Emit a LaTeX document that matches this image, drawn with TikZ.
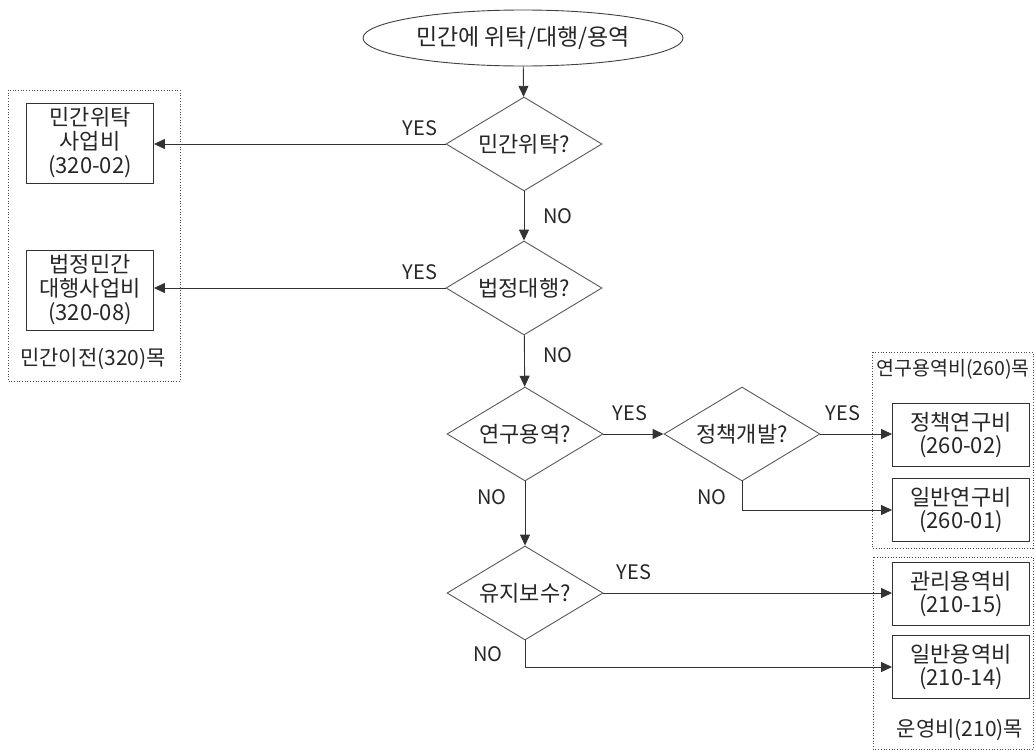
\documentclass[tikz,border=0pt]{standalone}
\usepackage{fontspec}
\setmainfont{Noto Sans CJK KR}
\usetikzlibrary{shapes.geometric,arrows.meta}
\begin{document}
\begin{tikzpicture}[x=1pt,y=-1pt,
  txt/.style={font=\fontsize{22}{24}\selectfont, text=black!85},
  startnode/.style={ellipse, draw=black!75, line width=0.9pt, minimum width=320pt, minimum height=56pt, inner sep=0pt, txt, font=\fontsize{23}{24}\selectfont},
  decision/.style={diamond, draw=black!65, line width=0.9pt, aspect=1.65, inner sep=0pt, minimum width=156pt, minimum height=94pt, txt},
  leftbox/.style={rectangle, draw=black!80, line width=0.9pt, minimum width=127pt, minimum height=80pt, inner sep=0pt, align=center, txt},
  rightbox/.style={rectangle, draw=black!80, line width=0.9pt, minimum width=137pt, minimum height=63pt, inner sep=0pt, align=center, txt, font=\fontsize{22}{23}\selectfont},
  lbl/.style={font=\fontsize{20}{20}\selectfont, text=black!85, inner sep=0pt},
  grplbl/.style={font=\fontsize{21}{21}\selectfont, text=black!85, inner sep=0pt},
  arr/.style={draw=black!80, line width=0.9pt, -{Triangle[length=11pt,width=10pt]}},
  grp/.style={draw=black!70, line width=0.7pt, dotted}
]
\useasboundingbox (0,0) rectangle (1035,750);

% groups
\draw[grp] (8,90) rectangle (180,381);
\draw[grp] (872,352) rectangle (1033,548);
\draw[grp] (873,557) rectangle (1033,749);
\node[grplbl] (g1) at (93,359) {민간이전(320)목};
\node[grplbl, font=\fontsize{19.5}{20}\selectfont] (g2) at (953,369) {연구용역비(260)목};
\node[grplbl] (g3) at (960,730) {운영비(210)목};

% nodes
\node[startnode] (start) at (523,38) {민간에 위탁/대행/용역};
\node[decision] (d1) at (524,144) {민간위탁?};
\node[decision] (d2) at (524,288) {법정대행?};
\node[decision] (d3) at (525,434) {연구용역?};
\node[decision] (d4) at (742,434) {정책개발?};
\node[decision] (d5) at (525,593) {유지보수?};

\node[leftbox] (b1) at (90,143) {민간위탁\\사업비\\(320-02)};
\node[leftbox] (b2) at (90,290) {법정민간\\대행사업비\\(320-08)};
\node[rightbox] (b3) at (961,435) {정책연구비\\(260-02)};
\node[rightbox] (b4) at (961,510) {일반연구비\\(260-01)};
\node[rightbox] (b5) at (961,594) {관리용역비\\(210-15)};
\node[rightbox] (b6) at (961,667) {일반용역비\\(210-14)};

% connectors
\draw[arr] (start) -- (d1);
\draw[arr] (d1.west) -- (d1.west -| b1.east);
\draw[arr] (d1) -- (d2);
\draw[arr] (d2.west) -- (d2.west -| b2.east);
\draw[arr] (d2) -- (d3);
\draw[arr] (d3.east) -- (d4.west);
\draw[arr] (d4.east) -- (d4.east -| b3.west);
\draw[arr] (d4.south) |- (b4.west);
\draw[arr] (d3) -- (d5);
\draw[arr] (d5.east) -- (d5.east -| b5.west);
\draw[arr] (d5.south) |- (b6.west);

% labels
\node[lbl] (y1) at (420,128) {YES};
\node[lbl] (n1) at (558,216) {NO};
\node[lbl] (y2) at (420,272) {YES};
\node[lbl] (n2) at (558,355) {NO};
\node[lbl] (y3) at (630,413) {YES};
\node[lbl] (y4) at (843,413) {YES};
\node[lbl] (n3) at (492,497) {NO};
\node[lbl] (n4) at (712,497) {NO};
\node[lbl] (y5) at (634,572) {YES};
\node[lbl] (n5) at (488,654) {NO};
\end{tikzpicture}
\end{document}
